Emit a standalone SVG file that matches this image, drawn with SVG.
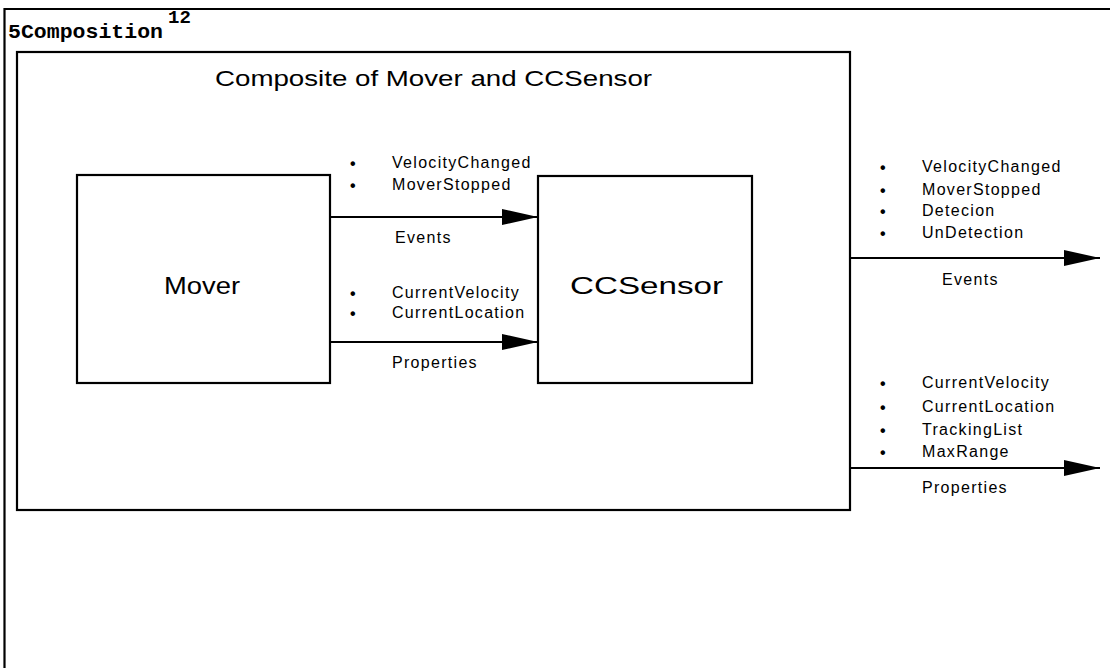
<svg xmlns="http://www.w3.org/2000/svg" width="1110" height="668" viewBox="0 0 1110 668">
<style>
.box{fill:none;stroke:#000;stroke-width:2.2}
.ln{stroke:#000;stroke-width:2}
.t{font-family:"Liberation Sans",Arial,sans-serif;fill:#000}
.s{font-size:16px;letter-spacing:1.3px}
.b{font-size:16px;font-weight:bold}
</style>
<defs>
<marker id="ah" viewBox="0 0 36 16" refX="36" refY="8" markerWidth="36" markerHeight="16" markerUnits="userSpaceOnUse" orient="auto">
<path d="M0,0 L36,8 L0,16 Z" fill="#000"/>
</marker>
</defs>
<rect width="1110" height="668" fill="#fff"/>
<g id="frame">
<path d="M1110,9 L4.5,9 L4.5,668" class="box"/>
<text x="8" y="38" font-family="Liberation Mono,Courier New,monospace" font-weight="bold" font-size="21" textLength="155" lengthAdjust="spacingAndGlyphs">5Composition</text>
<text x="168" y="23" font-family="Liberation Mono,Courier New,monospace" font-weight="bold" font-size="19">12</text>
</g>
<g id="composite">
<rect x="17" y="52" width="833" height="458" class="box"/>
<text class="t" x="215" y="86" font-size="22" textLength="437" lengthAdjust="spacingAndGlyphs">Composite of Mover and CCSensor</text>
</g>
<g id="mover">
<rect x="77" y="175" width="253" height="208" class="box"/>
<text class="t" x="164" y="294" font-size="24" textLength="76" lengthAdjust="spacingAndGlyphs">Mover</text>
</g>
<g id="ccsensor">
<rect x="538" y="176" width="214" height="207" class="box"/>
<text class="t" x="570" y="294" font-size="24" textLength="153" lengthAdjust="spacingAndGlyphs">CCSensor</text>
</g>
<g id="connectors">
<line x1="330" y1="217" x2="538" y2="217" class="ln" marker-end="url(#ah)"/>
<line x1="330" y1="342" x2="538" y2="342" class="ln" marker-end="url(#ah)"/>
<line x1="850" y1="258" x2="1100" y2="258" class="ln" marker-end="url(#ah)"/>
<line x1="850" y1="468" x2="1100" y2="468" class="ln" marker-end="url(#ah)"/>
</g>
<g id="labels" class="t">
<g class="b"><text x="350" y="169">•</text><text x="350" y="191">•</text><text x="350" y="299">•</text><text x="350" y="319">•</text></g>
<text class="s" x="392" y="168">VelocityChanged</text>
<text class="s" x="392" y="190">MoverStopped</text>
<text class="s" x="395" y="243">Events</text>
<text class="s" x="392" y="298">CurrentVelocity</text>
<text class="s" x="392" y="318">CurrentLocation</text>
<text class="s" x="392" y="368">Properties</text>
<g class="b"><text x="880" y="173">•</text><text x="880" y="196">•</text><text x="880" y="217">•</text><text x="880" y="239">•</text><text x="880" y="389">•</text><text x="880" y="413">•</text><text x="880" y="436">•</text><text x="880" y="458">•</text></g>
<text class="s" x="922" y="172">VelocityChanged</text>
<text class="s" x="922" y="195">MoverStopped</text>
<text class="s" x="922" y="216">Detecion</text>
<text class="s" x="922" y="238">UnDetection</text>
<text class="s" x="942" y="285">Events</text>
<text class="s" x="922" y="388">CurrentVelocity</text>
<text class="s" x="922" y="412">CurrentLocation</text>
<text class="s" x="922" y="435">TrackingList</text>
<text class="s" x="922" y="457">MaxRange</text>
<text class="s" x="922" y="493">Properties</text>
</g>
</svg>
